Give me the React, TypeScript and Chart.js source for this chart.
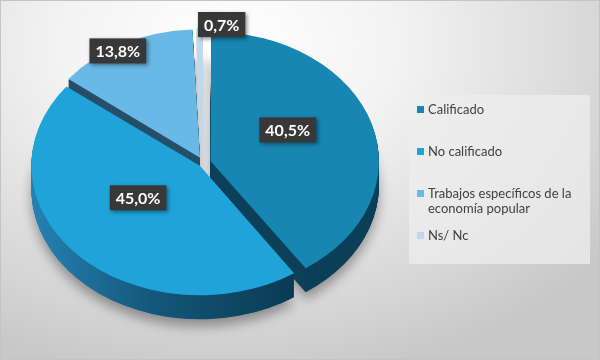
import React, { useEffect, useRef } from "react";
import { Chart, registerables } from "chart.js";

Chart.register(...registerables);

// ---- data ----
const categories = ["Calificado", "No calificado", "Trabajos específicos de la economía popular", "Ns/ Nc"];
const legendLines = [["Calificado"], ["No calificado"], ["Trabajos específicos de la", "economía popular"], ["Ns/ Nc"]];
const values = [40.5, 45.0, 13.8, 0.7];
const valueLabels = ["40,5%", "45,0%", "13,8%", "0,7%"];
const topColors = ["#1786b3", "#1fa3d8", "#6ab8e6", "#bcd9ef"];
const explode = [30, 20, 30, 22];

// ---- style ----
const TILT = 0.77;
const DEPTH = 24;
const CENTER_Y = 163;
const labelFactor = [0.5, 0.5, 1.0, 1.0];
const labelNudge = [[-9, -11], [2, -14], [-3, 11], [22, -3]];

function sideFill(ctx: CanvasRenderingContext2D, i: number, cx: number, r: number) {
  if (i === 0) return "#0c4058";
  if (i === 1) {
    const g = ctx.createLinearGradient(cx - r, 0, cx + r * 0.6, 0);
    g.addColorStop(0, "#2581b0");
    g.addColorStop(0.45, "#13577a");
    g.addColorStop(1, "#0a3a52");
    return g;
  }
  if (i === 2) return "#274f69";
  return "#cfd6dc";
}

const pie3d = {
  id: "pie3d",
  beforeDatasetsDraw(chart: any) {
    const ctx: CanvasRenderingContext2D = chart.ctx;
    const meta = chart.getDatasetMeta(0);
    const arcs = meta.data as any[];
    if (!arcs.length) return;
    const cx = arcs[0].x;
    const cy = arcs[0].y;
    const r = arcs[0].outerRadius;
    const withColor = (arc: any, c: any) =>
      Object.create(arc, { options: { value: { ...arc.options, backgroundColor: c, borderColor: c, borderWidth: 0 } } });

    ctx.save();
    ctx.translate(0, CENTER_Y);
    ctx.scale(1, TILT);
    ctx.translate(0, -cy);
    for (let d = DEPTH; d >= 1; d -= 0.5) {
      ctx.save();
      ctx.translate(0, d / TILT);
      if (d === DEPTH) {
        ctx.shadowColor = "rgba(0,0,0,0.35)";
        ctx.shadowBlur = 12;
        ctx.shadowOffsetY = 7;
      }
      arcs.forEach((arc, i) => {
        const p = withColor(arc, sideFill(ctx, i, cx, r));
        arc.draw.call(p, ctx);
      });
      ctx.restore();
    }
    arcs.forEach((arc) => arc.draw(ctx));
    ctx.restore();

    // value labels
    ctx.save();
    ctx.font = "bold 16px Lato";
    ctx.textAlign = "center";
    ctx.textBaseline = "middle";
    arcs.forEach((arc, i) => {
      const h = (arc.startAngle + arc.endAngle) / 2;
      const f = labelFactor[i];
      const off = (arc.options.offset || 0) / 2;
      const x = cx + Math.cos(h) * (r * f + off) + labelNudge[i][0];
      const y = CENTER_Y + Math.sin(h) * (r * f + off) * TILT + labelNudge[i][1];
      const t = valueLabels[i];
      const w = ctx.measureText(t).width + 12;
      const hgt = 25;
      ctx.save();
      ctx.shadowColor = "rgba(0,0,0,0.45)";
      ctx.shadowBlur = 4;
      ctx.shadowOffsetX = 2;
      ctx.shadowOffsetY = 2;
      ctx.fillStyle = "#383838";
      ctx.fillRect(x - w / 2, y - hgt / 2, w, hgt);
      ctx.restore();
      ctx.fillStyle = "#ffffff";
      ctx.fillText(t, x, y + 1);
    });
    ctx.restore();
    return false;
  },
};

export default function App() {
  const ref = useRef<HTMLCanvasElement>(null);
  useEffect(() => {
    document.body.style.margin = "0";
    const chart = new Chart(ref.current!, {
      type: "pie",
      data: {
        labels: categories,
        datasets: [
          {
            data: values,
            backgroundColor: topColors,
            borderWidth: 0,
            offset: explode,
            clip: false as any,
          },
        ],
      },
      options: {
        responsive: false,
        animation: false,
        events: [],
        layout: { padding: { left: 20, right: 213, top: 0, bottom: 0 } },
        plugins: { legend: { display: false }, tooltip: { enabled: false } },
      },
      plugins: [pie3d as any],
    });
    return () => chart.destroy();
  }, []);

  const tops = [6.5, 48.5, 90.5, 132.5];
  return (
    <div
      style={{
        position: "fixed",
        left: 0,
        top: 0,
        width: 600,
        height: 360,
        boxSizing: "border-box",
        border: "1px solid #c4c4c4",
        background: "radial-gradient(ellipse 80% 95% at 38% 12%, #ffffff 0%, #f3f3f3 35%, #d6d6d6 80%, #c8c8c8 100%)",
        overflow: "hidden",
      }}
    >
      <div
        style={{
          position: "absolute",
          left: 408,
          top: 94,
          width: 181,
          height: 169,
          background: "rgba(238,238,238,0.75)",
        }}
      >
        {legendLines.map((lines, i) => (
          <div key={i} style={{ position: "absolute", left: 8, top: tops[i], fontFamily: "Lato", fontSize: 13, lineHeight: "15px", color: "#404040" }}>
            <span
              style={{
                position: "absolute",
                left: 0,
                top: 4,
                width: 7,
                height: 7,
                background: topColors[i],
              }}
            />
            <div style={{ marginLeft: 11, whiteSpace: "nowrap" }}>
              {lines.map((l, j) => (
                <div key={j}>{l}</div>
              ))}
            </div>
          </div>
        ))}
      </div>
      <canvas ref={ref} width={600} height={360} style={{ position: "absolute", left: -1, top: -1 }} />
    </div>
  );
}
